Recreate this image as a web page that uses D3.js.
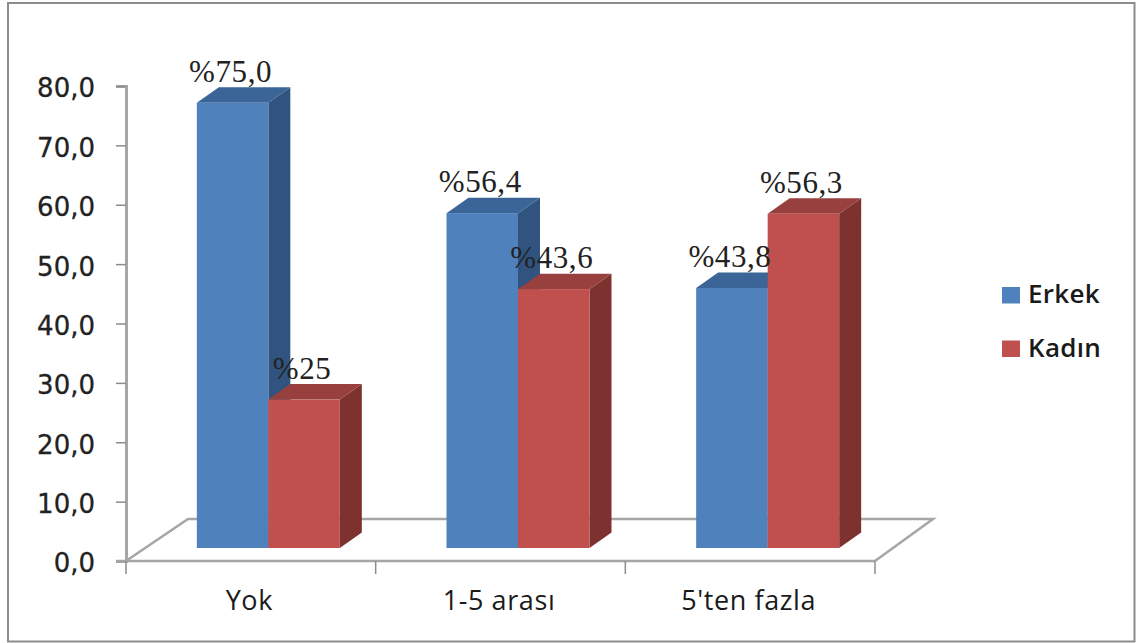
<!DOCTYPE html>
<html>
<head>
<meta charset="utf-8">
<script src="https://cdn.jsdelivr.net/npm/d3@7/dist/d3.min.js"></script>
<style>
html,body{margin:0;padding:0;background:#fff;}
svg{display:block;}
</style>
</head>
<body>
<script>
const categories = ["Yok", "1-5 arası", "5'ten fazla"];
const seriesNames = ["Erkek", "Kadın"];
const erkekValues = [75.0, 56.4, 43.8];
const kadinValues = [25.0, 43.6, 56.3];
const erkekLabels = ["%75,0", "%56,4", "%43,8"];
const kadinLabels = ["%25", "%43,6", "%56,3"];
const yTicks = [0, 10, 20, 30, 40, 50, 60, 70, 80];

const width = 1136, height = 643;
const svg = d3.select("body").append("svg").attr("width", width).attr("height", height);

const uiFont = "'Open Sans', 'Noto Sans', sans-serif";
const tickFont = "'DejaVu Sans', sans-serif";
const labelFont = "'Liberation Serif', serif";
const gridColor = "#a6a6a6";

// Outer chart frame
svg.append("rect").attr("x", 8).attr("y", 3).attr("width", 1126.5).attr("height", 638.5)
  .attr("fill", "#fff").attr("stroke", "#8c8c8c").attr("stroke-width", 2);

// Front plane of the 3-D axis box
const x = d3.scaleBand().domain(categories).range([126, 875]);
const y = d3.scaleLinear().domain([0, 80]).range([561, 86]);

// Depth of the floor and of each column, in pixels
const floorDepth = {dx: 62, dy: -42};
const barDepth = {dx: 22, dy: -15.5};
const barLift = 13;      // columns stand this far behind the front edge of the floor
const barShift = 17.5;   // and this far to the right of the category centre
const barWidth = 71.5;

const floor = svg.append("g").attr("fill", "none").attr("stroke", gridColor).attr("stroke-width", 2.5);
const [x0, x1] = x.range();
floor.append("path").attr("d", d3.line()([
  [x0, y(0)], [x0 + floorDepth.dx, y(0) + floorDepth.dy],
  [x1 + floorDepth.dx - 4, y(0) + floorDepth.dy], [x1, y(0)]
]));

// Value axis with outward ticks
const yAxis = d3.axisLeft(y).tickValues(yTicks).tickSize(10).tickPadding(21)
  .tickFormat(d => d3.format(".1f")(d).replace(".", ","));
const gy = svg.append("g").attr("transform", `translate(${x0},0)`).call(yAxis);

// Category axis: ticks sit on band edges, labels on band centres
const xEdges = [x0, ...categories.map(c => x(c) + x.bandwidth())];
const gx = svg.append("g").attr("transform", `translate(0,${y(0)})`);
gx.append("line").attr("x1", x0 - 10).attr("x2", x1).attr("stroke", gridColor).attr("stroke-width", 2.5);
gx.selectAll(".edge").data(xEdges).join("line").attr("class", "edge")
  .attr("x1", d => d).attr("x2", d => d).attr("y1", 0).attr("y2", 13)
  .attr("stroke", "#8c8c8c").attr("stroke-width", 1.5);
gx.selectAll(".cat").data(categories).join("text").attr("class", "cat")
  .attr("x", d => x(d) + x.bandwidth() / 2 - 1.5).attr("y", 48.5)
  .attr("text-anchor", "middle").attr("font-family", uiFont)
  .attr("font-size", 27).attr("font-weight", 500).attr("letter-spacing", 0.6)
  .attr("fill", "#1a1a1a").text(d => d);

gy.select(".domain").attr("stroke", gridColor).attr("stroke-width", 3);
gy.selectAll(".tick line").attr("stroke", "#8c8c8c").attr("stroke-width", 1.5);
gy.selectAll(".tick text").attr("font-family", tickFont).attr("font-size", 26)
  .attr("dy", "0.42em").attr("fill", "#222").attr("stroke", "#222").attr("stroke-width", 0.3);

const palette = {
  Erkek: {front: "#4f81bd", top: "#3b6497", side: "#30547f"},
  Kadın: {front: "#c0504d", top: "#97403d", side: "#7d3230"}
};

const rows = [];
categories.forEach((c, i) => {
  rows.push({cat: c, name: "Erkek", value: erkekValues[i], label: erkekLabels[i], slot: 0});
  rows.push({cat: c, name: "Kadın", value: kadinValues[i], label: kadinLabels[i], slot: 1});
});

const bx = d => x(d.cat) + x.bandwidth() / 2 + barShift - barWidth + d.slot * barWidth;
const bt = d => y(d.value) - barLift;
const bb = y(0) - barLift;

const bars = svg.append("g").selectAll("g").data(rows).join("g");
// Side face
bars.append("path").attr("fill", d => palette[d.name].side).attr("d", d => {
  const l = bx(d) + barWidth, t = bt(d);
  return d3.line()([[l, t], [l + barDepth.dx, t + barDepth.dy],
    [l + barDepth.dx, bb + barDepth.dy], [l, bb]]);
});
// Top face
bars.append("path").attr("fill", d => palette[d.name].top).attr("d", d => {
  const l = bx(d), t = bt(d);
  return d3.line()([[l, t], [l + barDepth.dx, t + barDepth.dy],
    [l + barWidth + barDepth.dx, t + barDepth.dy], [l + barWidth, t]]);
});
// Front face
bars.append("rect").attr("fill", d => palette[d.name].front)
  .attr("x", bx).attr("y", bt).attr("width", barWidth).attr("height", d => bb - bt(d));

// Value labels above each column
svg.append("g").selectAll("text").data(rows).join("text")
  .attr("x", d => bx(d) + barWidth / 2 - 2)
  .attr("y", d => bt(d) - 21)
  .attr("text-anchor", "middle").attr("font-family", labelFont)
  .attr("font-size", 31).attr("letter-spacing", 0.6).attr("fill", "#222").text(d => d.label);

// Legend
const legend = svg.append("g").selectAll("g").data(seriesNames).join("g")
  .attr("transform", (d, i) => `translate(1002,${287 + i * 53.5})`);
legend.append("rect").attr("width", 18).attr("height", 16.5).attr("fill", d => palette[d].front);
legend.append("text").attr("x", 26).attr("y", 16).attr("font-family", uiFont)
  .attr("font-size", 26).attr("font-weight", 600).attr("letter-spacing", 0.3)
  .attr("fill", "#1a1a1a").text(d => d);
</script>
</body>
</html>
